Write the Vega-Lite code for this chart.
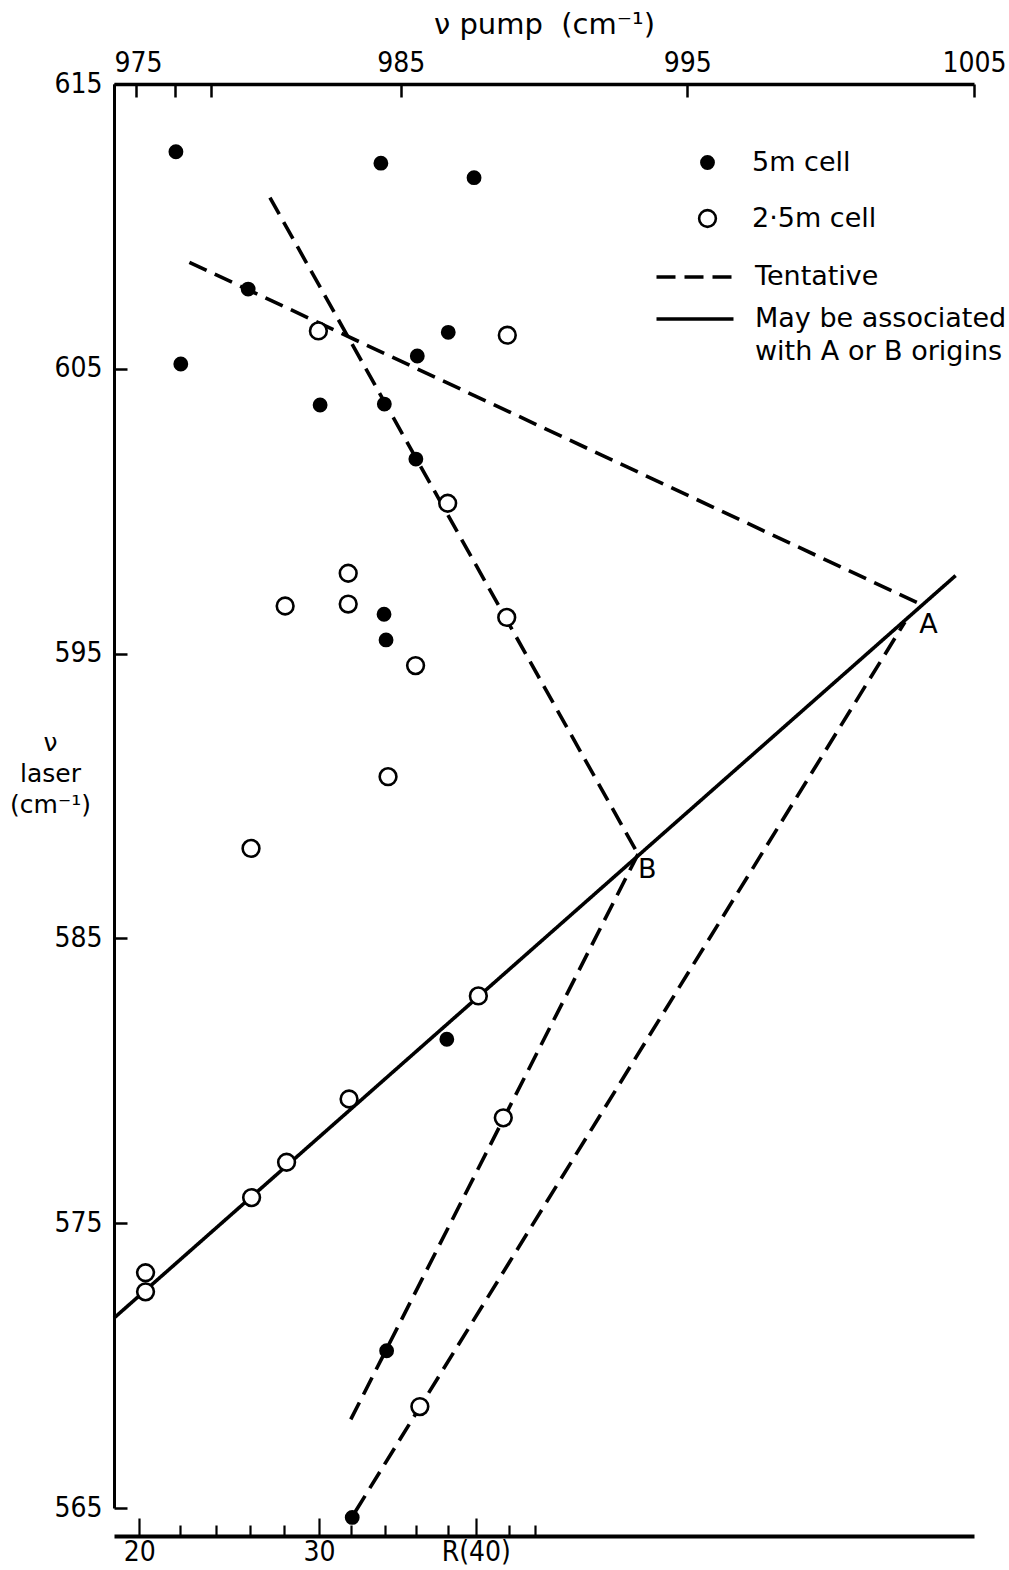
{
  "$schema": "https://vega.github.io/schema/vega-lite/v6.json",
  "width": 860,
  "height": 1424,
  "autosize": {"type": "none"},
  "padding": {"left": 114, "top": 84, "right": 35, "bottom": 62},
  "background": "white",
  "config": {
    "view": {"stroke": null},
    "font": "DejaVu Sans",
    "axis": {
      "grid": false,
      "domainColor": "black",
      "tickColor": "black",
      "labelColor": "black",
      "titleColor": "black",
      "labelFont": "DejaVu Sans Condensed, DejaVu Sans",
      "labelFontSize": 28,
      "titleFont": "DejaVu Sans",
      "titleFontWeight": "normal",
      "labelFlush": false,
      "labelOverlap": false
    }
  },
  "datasets": {
    "lines": [
      {"line": "S", "type": "May be associated with A or B origins", "f": 975.0, "v": 571.67},
      {"line": "S", "type": "May be associated with A or B origins", "f": 1004.36, "v": 597.74},
      {"line": "D1", "type": "Tentative", "f": 977.63, "v": 608.74},
      {"line": "D1", "type": "Tentative", "f": 1003.06, "v": 596.77},
      {"line": "D2", "type": "Tentative", "f": 980.44, "v": 611.01},
      {"line": "D2", "type": "Tentative", "f": 993.24, "v": 588.03},
      {"line": "D3", "type": "Tentative", "f": 993.28, "v": 587.96},
      {"line": "D3", "type": "Tentative", "f": 983.26, "v": 568.11},
      {"line": "D4", "type": "Tentative", "f": 1002.59, "v": 596.11},
      {"line": "D4", "type": "Tentative", "f": 983.41, "v": 564.86}
    ],
    "points": [
      {"cell": "5m cell", "f": 977.16, "v": 612.62},
      {"cell": "5m cell", "f": 984.31, "v": 612.22},
      {"cell": "5m cell", "f": 987.56, "v": 611.71},
      {"cell": "5m cell", "f": 979.68, "v": 607.80},
      {"cell": "5m cell", "f": 986.66, "v": 606.28},
      {"cell": "5m cell", "f": 985.58, "v": 605.45},
      {"cell": "5m cell", "f": 977.33, "v": 605.17},
      {"cell": "5m cell", "f": 982.19, "v": 603.73},
      {"cell": "5m cell", "f": 984.43, "v": 603.76},
      {"cell": "5m cell", "f": 985.53, "v": 601.83},
      {"cell": "5m cell", "f": 984.42, "v": 596.38},
      {"cell": "5m cell", "f": 984.49, "v": 595.48},
      {"cell": "5m cell", "f": 986.61, "v": 581.46},
      {"cell": "5m cell", "f": 984.51, "v": 570.52},
      {"cell": "5m cell", "f": 983.31, "v": 564.67},
      {"cell": "2·5m cell", "f": 982.13, "v": 606.33},
      {"cell": "2·5m cell", "f": 988.72, "v": 606.18},
      {"cell": "2·5m cell", "f": 986.64, "v": 600.28},
      {"cell": "2·5m cell", "f": 983.17, "v": 597.82},
      {"cell": "2·5m cell", "f": 980.97, "v": 596.67},
      {"cell": "2·5m cell", "f": 983.17, "v": 596.74},
      {"cell": "2·5m cell", "f": 988.70, "v": 596.27},
      {"cell": "2·5m cell", "f": 985.52, "v": 594.58},
      {"cell": "2·5m cell", "f": 984.56, "v": 590.68},
      {"cell": "2·5m cell", "f": 979.78, "v": 588.16},
      {"cell": "2·5m cell", "f": 987.71, "v": 582.98},
      {"cell": "2·5m cell", "f": 983.20, "v": 579.36},
      {"cell": "2·5m cell", "f": 988.58, "v": 578.70},
      {"cell": "2·5m cell", "f": 981.02, "v": 577.14},
      {"cell": "2·5m cell", "f": 979.80, "v": 575.90},
      {"cell": "2·5m cell", "f": 976.10, "v": 573.26},
      {"cell": "2·5m cell", "f": 976.10, "v": 572.59},
      {"cell": "2·5m cell", "f": 985.67, "v": 568.56}
    ],
    "labels": [
      {"label": "A", "f": 1003.41, "v": 596.0},
      {"label": "B", "f": 993.6, "v": 587.4}
    ]
  },
  "encoding": {
    "y": {
      "field": "v", "type": "quantitative",
      "scale": {"domain": [565, 615], "nice": false, "zero": false},
      "axis": {
        "orient": "left",
        "values": [565, 575, 585, 595, 605, 615],
        "format": "d",
        "tickSize": -13,
        "tickWidth": 2.5,
        "domainWidth": 3,
        "labelPadding": 25,
        "title": ["ν", "laser", "(cm⁻¹)"],
        "titleAngle": 0,
        "titleAlign": "center",
        "titleBaseline": "top",
        "titleX": -64,
        "titleY": 646,
        "titleFontSize": 25,
        "titleLineHeight": 31
      }
    }
  },
  "layer": [
    {
      "data": {"name": "lines"},
      "mark": {"type": "line", "color": "black", "strokeWidth": 3.6, "strokeCap": "butt"},
      "encoding": {
        "x": {
          "field": "f", "type": "quantitative",
          "scale": {"domain": [975, 1005], "nice": false, "zero": false},
          "axis": {
            "orient": "top",
            "values": [975, 975.76, 977.13, 978.38, 985, 995, 1005],
            "format": "d",
            "labelExpr": "datum.value % 10 == 5 ? datum.label : ''",
            "labelAlign": {"condition": {"test": "datum.value == 975", "value": "left"}, "value": "center"},
            "tickSize": -13,
            "tickWidth": 2.5,
            "domainWidth": 3.5,
            "labelPadding": 20,
            "title": "ν pump\u00a0\u00a0(cm⁻¹)",
            "titleFontSize": 29,
            "titlePadding": 10
          }
        },
        "detail": {"field": "line"},
        "strokeDash": {
          "field": "type", "type": "nominal",
          "scale": {"domain": ["Tentative", "May be associated with A or B origins"], "range": [[19, 9], [1, 0]]},
          "legend": {
            "orient": "none",
            "legendX": 560,
            "legendY": 172,
            "title": null,
            "padding": 0,
            "rowPadding": 8,
            "labelOffset": 39,
            "symbolType": "M-2,0H2",
            "symbolSize": 1482,
            "symbolStrokeWidth": 3.5,
            "symbolStrokeColor": "black",
            "symbolFillColor": "transparent",
            "labelFont": "DejaVu Sans",
            "labelFontSize": 27,
            "labelColor": "black",
            "labelLimit": 400,
            "labelExpr": "datum.label == 'Tentative' ? datum.label : ['May be associated', 'with A or B origins']",
            "encode": {
              "labels": {
                "update": {
                  "lineHeight": {"value": 33}
                }
              }
            }
          }
        }
      }
    },
    {
      "data": {"name": "points"},
      "mark": {"type": "point", "shape": "circle", "filled": true, "stroke": "black", "strokeWidth": 2.6, "opacity": 1},
      "encoding": {
        "x": {
          "field": "f", "type": "quantitative",
          "scale": {"domain": [975, 1005], "nice": false, "zero": false},
          "axis": {
            "orient": "bottom",
            "offset": 28,
            "values": [975.88, 977.30, 978.56, 979.74, 980.94, 982.15, 983.26, 984.45, 985.52, 986.66, 987.62, 988.78, 989.69],
            "labelExpr": "datum.value == 975.88 ? '20' : datum.value == 982.15 ? '30' : datum.value == 987.62 ? 'R(40)' : ''",
            "tickSize": {"condition": {"test": "datum.value == 975.88 || datum.value == 982.15 || datum.value == 987.62", "value": -18}, "value": -11},
            "tickWidth": 2.2,
            "domainWidth": 4,
            "labelPadding": 20,
            "title": null
          }
        },
        "fill": {
          "field": "cell", "type": "nominal",
          "scale": {"domain": ["5m cell", "2·5m cell"], "range": ["black", "white"]},
          "legend": {
            "orient": "none",
            "legendX": 580,
            "legendY": 65,
            "title": null,
            "padding": 0,
            "rowPadding": 28,
            "labelOffset": 31,
            "symbolType": "circle",
            "symbolStrokeColor": "black",
            "symbolStrokeWidth": 2.6,
            "labelFont": "DejaVu Sans",
            "labelFontSize": 27,
            "labelColor": "black"
          }
        },
        "size": {
          "field": "cell", "type": "nominal",
          "scale": {"domain": ["5m cell", "2·5m cell"], "range": [150, 280]},
          "legend": {
            "orient": "none",
            "legendX": 580,
            "legendY": 65,
            "title": null
          }
        }
      }
    },
    {
      "data": {"name": "labels"},
      "mark": {"type": "text", "font": "DejaVu Sans", "fontSize": 27, "align": "center", "baseline": "middle", "color": "black"},
      "encoding": {
        "x": {"field": "f", "type": "quantitative", "scale": {"domain": [975, 1005], "nice": false, "zero": false}, "axis": null},
        "text": {"field": "label"}
      }
    }
  ],
  "resolve": {"axis": {"x": "independent"}}
}
